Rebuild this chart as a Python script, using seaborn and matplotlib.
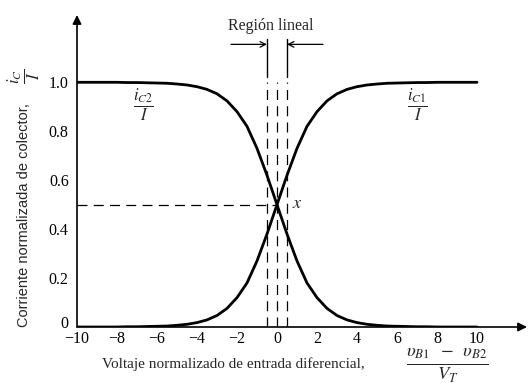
import matplotlib
matplotlib.use("Agg")
import matplotlib.pyplot as plt
import matplotlib.transforms as mtransforms
import seaborn as sns
import pandas as pd

# Normalized differential input voltage (v_B1 - v_B2)/V_T
vd = [-10, -9.5, -9, -8.5, -8, -7.5, -7, -6.5, -6, -5.5, -5, -4.5, -4, -3.5, -3,
      -2.5, -2, -1.5, -1, -0.5, 0, 0.5, 1, 1.5, 2, 2.5, 3, 3.5, 4, 4.5, 5,
      5.5, 6, 6.5, 7, 7.5, 8, 8.5, 9, 9.5, 10]

# Normalized collector currents
ic1 = [0.0, 0.0, 0.0, 0.0, 0.0, 0.001, 0.001, 0.002, 0.003, 0.004, 0.007, 0.011,
       0.018, 0.029, 0.047, 0.076, 0.12, 0.18, 0.27, 0.38, 0.5, 0.62, 0.73, 0.82,
       0.88, 0.924, 0.953, 0.971, 0.982, 0.989, 0.993, 0.996, 0.997, 0.998,
       0.999, 0.999, 1.0, 1.0, 1.0, 1.0, 1.0]
ic2 = [1.0, 1.0, 1.0, 1.0, 1.0, 0.999, 0.999, 0.998, 0.997, 0.996, 0.993, 0.989,
       0.982, 0.971, 0.953, 0.924, 0.88, 0.82, 0.73, 0.62, 0.5, 0.38, 0.27, 0.18,
       0.12, 0.076, 0.047, 0.029, 0.018, 0.011, 0.007, 0.004, 0.003, 0.002,
       0.001, 0.001, 0.0, 0.0, 0.0, 0.0, 0.0]

xticks = [-10, -8, -6, -4, -2, 0, 2, 4, 6, 8, 10]
xtick_labels = ["\u221210", "\u22128", "\u22126", "\u22124", "\u22122", "0", "2", "4", "6", "8", "10"]
yticks = [0, 0.2, 0.4, 0.6, 0.8, 1.0]
ytick_labels = ["0", "0.2", "0.4", "0.6", "0.8", "1.0"]

# Linear region limits and midpoint
lin_lo, lin_mid, lin_hi = -0.5, 0.0, 0.5

sns.set_style("white")
plt.rcParams["mathtext.fontset"] = "stix"

df = pd.DataFrame({"vd": vd + vd, "ic": ic1 + ic2,
                   "curva": ["iC1"] * len(vd) + ["iC2"] * len(vd)})

fig = plt.figure(figsize=(5.31, 3.88), dpi=100)
ax = fig.add_axes([77 / 531, 61 / 388, 450 / 531, 312 / 388])

sns.lineplot(data=df, x="vd", y="ic", hue="curva", palette=["black", "black"],
             linewidth=2.0, legend=False, ax=ax)

ax.set_xlim(-10, 12.5)
ax.set_ylim(0, 1.275)
for s in ax.spines.values():
    s.set_visible(False)

ax.set_xticks(xticks)
ax.set_xticklabels(xtick_labels)
ax.set_yticks(yticks)
ax.set_yticklabels(ytick_labels)
ax.tick_params(axis="both", direction="in", length=5, width=1, color="black",
               labelsize=11.5, labelcolor="black")
ax.tick_params(axis="x", pad=3)
ax.tick_params(axis="y", pad=6)
for lab in ax.get_xticklabels() + ax.get_yticklabels():
    lab.set_fontfamily("Liberation Serif")
# lift the "0" on the vertical axis clear of the "-10" below it
zero_lab = ax.get_yticklabels()[0]
zero_lab.set_transform(zero_lab.get_transform() +
                       mtransforms.ScaledTranslation(0, 5 / 100, fig.dpi_scale_trans))
ax.set_xlabel("")
ax.set_ylabel("")

# Axis arrows
ax.annotate("", xy=(12.5, 0), xytext=(-10, 0),
            arrowprops=dict(arrowstyle="-|>", lw=1.2, color="black",
                            mutation_scale=13, shrinkA=0, shrinkB=0),
            annotation_clip=False)
ax.annotate("", xy=(-10, 1.275), xytext=(-10, 0),
            arrowprops=dict(arrowstyle="-|>", lw=1.2, color="black",
                            mutation_scale=13, shrinkA=0, shrinkB=0),
            annotation_clip=False)

# Dashed guides
dash = dict(color="black", lw=0.9, dashes=(8, 5))
ax.plot([-10, lin_mid], [0.5, 0.5], **dash)
ax.plot([lin_lo, lin_lo], [0, 1.0], **dash)
ax.plot([lin_mid, lin_mid], [0, 1.0], **dash)
ax.plot([lin_hi, lin_hi], [0, 1.0], **dash)
ax.plot([lin_lo, lin_lo], [1.02, 1.175], color="black", lw=1.0, clip_on=False)
ax.plot([lin_hi, lin_hi], [1.02, 1.175], color="black", lw=1.0, clip_on=False)

# Linear-region markers
ax.annotate("", xy=(lin_lo, 1.155), xytext=(-2.3, 1.155),
            arrowprops=dict(arrowstyle="->", lw=0.9, color="black", shrinkA=0, shrinkB=0))
ax.annotate("", xy=(lin_hi, 1.155), xytext=(2.3, 1.155),
            arrowprops=dict(arrowstyle="->", lw=0.9, color="black", shrinkA=0, shrinkB=0))
ax.text(-0.3, 1.232, "Región lineal", ha="center", va="center",
        fontfamily="Liberation Serif", fontsize=11.5)

# Curve labels
ax.text(-6.7, 0.905, r"$\frac{i_{C2}}{I}$", ha="center", va="center", fontsize=17)
ax.text(7.0, 0.905, r"$\frac{i_{C1}}{I}$", ha="center", va="center", fontsize=17)
ax.text(1.0, 0.505, r"$x$", ha="center", va="center", fontsize=13)

# Axis titles
fig.text(24 / 531, 1 - 215 / 388, "Corriente normalizada de colector,",
         rotation=90, ha="center", va="center", fontfamily="Liberation Sans",
         fontsize=10.5)
fig.text(24 / 531, 1 - 76 / 388, r"$\frac{i_C}{I}$", rotation=90,
         ha="center", va="center", fontsize=17)
fig.text(233 / 531, 1 - 364 / 388, "Voltaje normalizado de entrada diferencial,",
         ha="center", va="center", fontfamily="Liberation Serif", fontsize=11)
fig.text(447 / 531, 1 - 366 / 388,
         r"$\frac{\upsilon_{B1}\;\;-\;\;\upsilon_{B2}}{V_T}$",
         ha="center", va="center", fontsize=19)

fig.savefig("out.png", dpi=100)
